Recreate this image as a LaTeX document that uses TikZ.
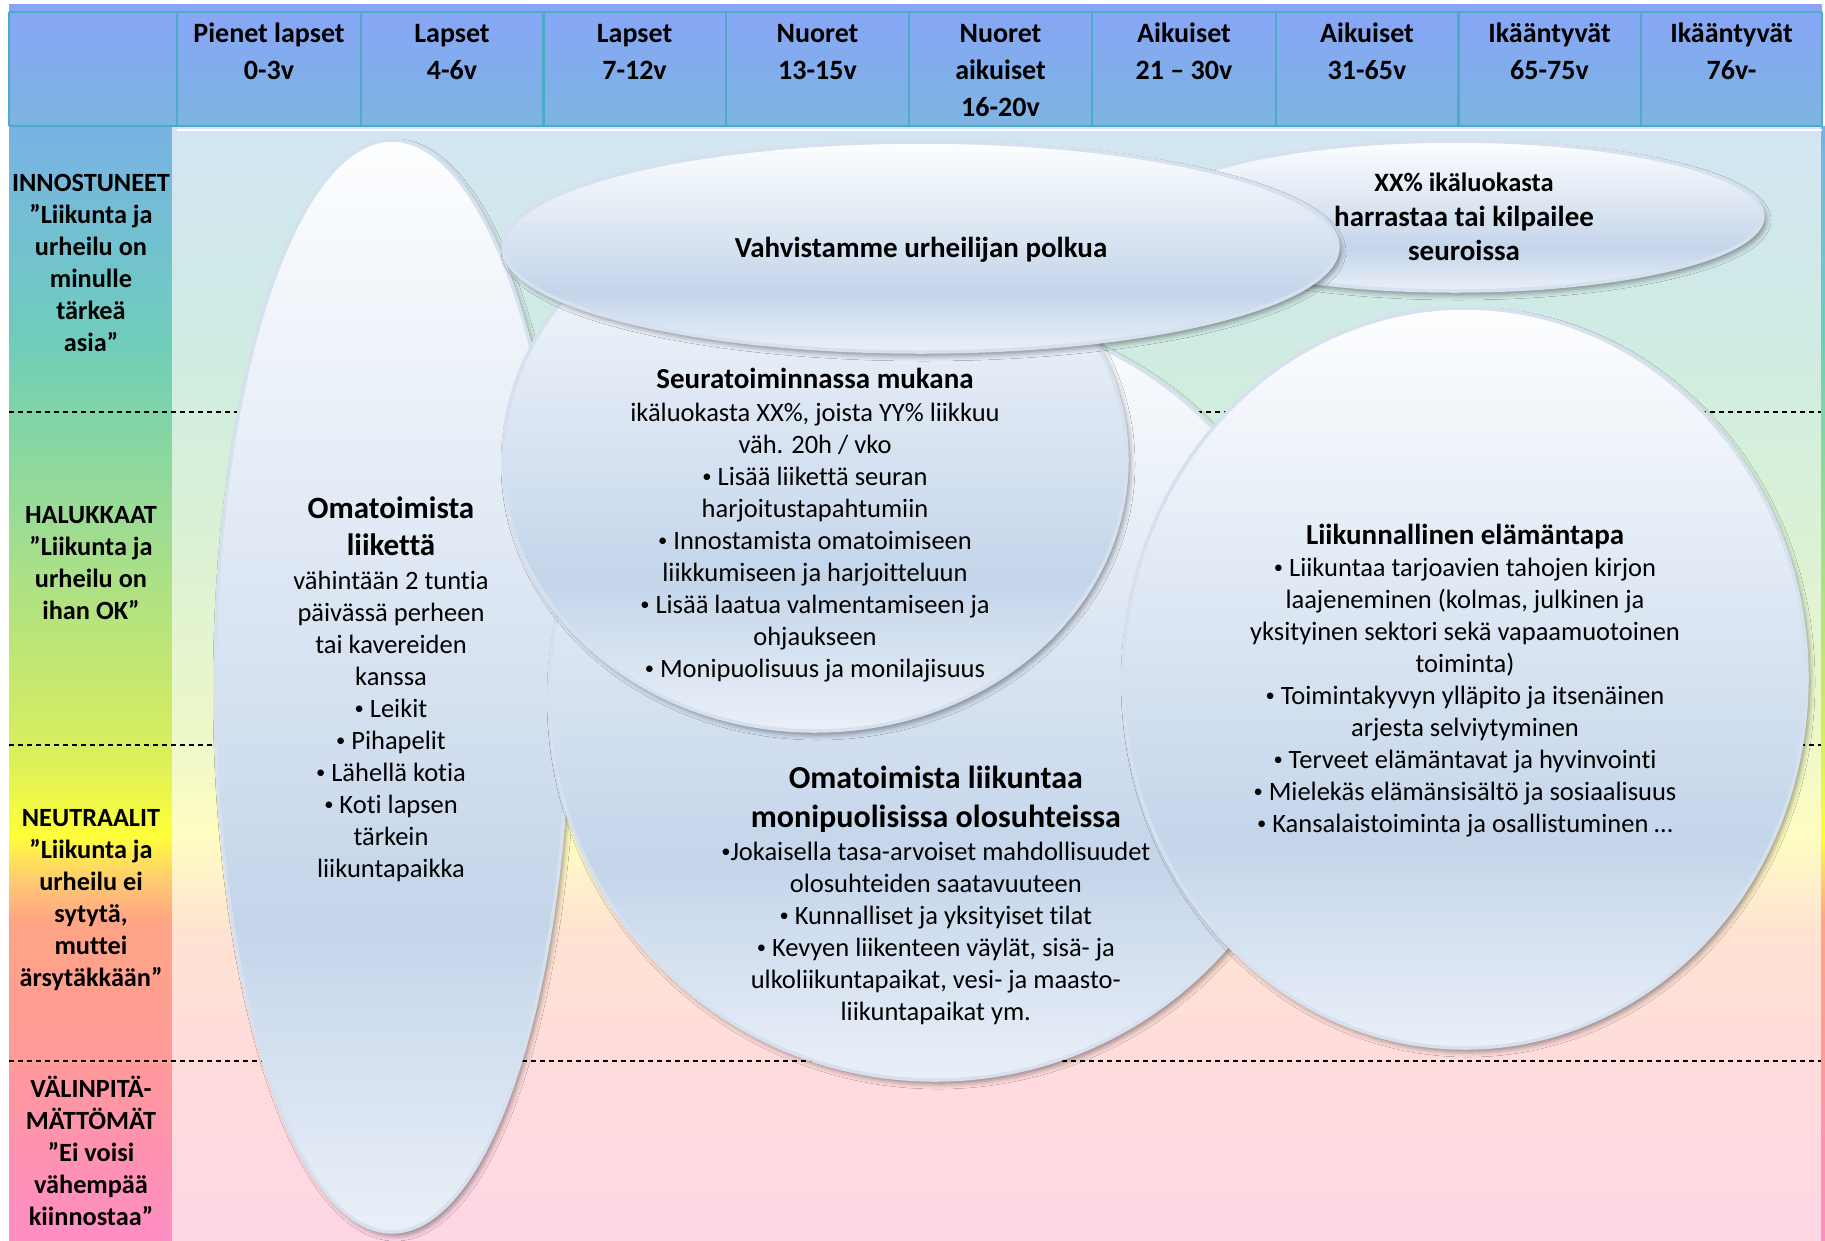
\documentclass[tikz,border=0pt]{standalone}
\usepackage{fontspec}
\usepackage{graphicx}
\setmainfont{Carlito}[Ligatures=NoCommon]
\usetikzlibrary{shapes.geometric,shadows,shadows.blur}

\newcommand\mybul{\raisebox{0.1em}{\scalebox{0.7}{•}}}

\definecolor{bubT}{HTML}{FDFEFF}
\definecolor{bubM}{HTML}{C4D5EA}
\definecolor{bubB}{HTML}{EAF0F8}
\definecolor{bubLine}{HTML}{D6E0EE}
\definecolor{hdrTop}{HTML}{88A5F7}
\definecolor{hdrBot}{HTML}{7DB4E2}
\definecolor{hdrLine}{HTML}{4BACC6}

\definecolor{bg1}{HTML}{D3E5F2}
\definecolor{bg2}{HTML}{CFEBE4}
\definecolor{bg3}{HTML}{D2EEDD}
\definecolor{bg4}{HTML}{DDF2D4}
\definecolor{bg5}{HTML}{EEF8C8}
\definecolor{bg6}{HTML}{FFFDC2}
\definecolor{bg7}{HTML}{FFE3D2}
\definecolor{bg8}{HTML}{FFDCDC}
\definecolor{bg9}{HTML}{FFD6E4}

\definecolor{c1}{HTML}{79B2E4}
\definecolor{c2}{HTML}{72C2CE}
\definecolor{c3}{HTML}{6FCDBB}
\definecolor{c4}{HTML}{7FD4A8}
\definecolor{c5}{HTML}{9CDC94}
\definecolor{c6}{HTML}{C6E86E}
\definecolor{c7}{HTML}{DDF05A}
\definecolor{c8}{HTML}{FFFF3A}
\definecolor{c9}{HTML}{FFCB70}
\definecolor{c10}{HTML}{FFA585}
\definecolor{c11}{HTML}{FF9A9A}
\definecolor{c12}{HTML}{FF92B0}
\definecolor{c13}{HTML}{FF8EC4}

\pgfdeclareverticalshading{bubshade}{100bp}{color(0bp)=(bubB); color(25bp)=(bubB); color(39bp)=(bubM); color(75bp)=(bubT); color(100bp)=(bubT)}
\pgfdeclareverticalshading{bodyshade}{100bp}{color(0bp)=(bg9); color(25bp)=(bg9); color(33.03bp)=(bg8); color(38.91bp)=(bg7); color(43.18bp)=(bg6); color(47.22bp)=(bg5); color(55.52bp)=(bg4); color(62.16bp)=(bg3); color(65.84bp)=(bg2); color(75bp)=(bg1); color(100bp)=(bg1)}
\pgfdeclareverticalshading{colshade}{100bp}{color(0bp)=(c13); color(25bp)=(c13); color(29.04bp)=(c12); color(33.03bp)=(c11); color(39.36bp)=(c10); color(41.16bp)=(c9); color(43.18bp)=(c8); color(46.54bp)=(c7); color(50.13bp)=(c6); color(57.32bp)=(c5); color(62.16bp)=(c4); color(65.39bp)=(c3); color(69.43bp)=(c2); color(75bp)=(c1); color(100bp)=(c1)}

\tikzset{
  bodytext/.style={font=\fontsize{26.5}{32}\selectfont, align=center, inner sep=0pt, anchor=north},
  ttl/.style={font=\bfseries\fontsize{29}{35}\selectfont, inner sep=0pt, anchor=base},
  hdr/.style={font=\bfseries\fontsize{28}{37}\selectfont, align=center, inner sep=0pt, anchor=north},
  lbl/.style={font=\bfseries\fontsize{26.3}{32}\selectfont, align=center, inner sep=0pt, anchor=north},
  bub/.style={ellipse, inner sep=0pt, draw=bubLine, line width=3.5pt, shade, shading=bubshade,
    blur shadow={shadow xshift=3pt, shadow yshift=-4pt, shadow blur radius=5pt, shadow opacity=40}},
  hline/.style={draw=hdrLine, line width=2.5pt},
  sepline/.style={draw=black, line width=1.2pt, dash pattern=on 5pt off 4pt},
}

\begin{document}
\begin{tikzpicture}[x=1pt,y=-1pt]
\useasboundingbox (0,0) rectangle (1825,1240);
\fill[white] (0,0) rectangle (1825,1240);

% header background
\shade[top color=hdrTop, bottom color=hdrBot] (9,4) rectangle (1822,126);

% left column, body, right strip
\shade[shading=colshade] (9,126) rectangle (172,1240);
\shade[shading=bodyshade] (172,126) rectangle (1821,1240);
\shade[shading=colshade] (1821,126) rectangle (1825,1240);

% dashed separators
\foreach \yy in {412,745,1061} \draw[sepline] (9,\yy) -- (1821,\yy);

% header grid
\draw[hline] (9,12) -- (1822,12);
\draw[hline] (9,126) -- (1822,126);
\foreach \xx in {9,177,361,543.5,726,909,1092,1276,1458.5,1641,1822} \draw[hline] (\xx,12) -- (\xx,126);
\draw[white, line width=2pt] (177,129.5) -- (1822,129.5);

% header texts
\node[hdr] (h1) at (269,16) {\strut Pienet lapset\\0-3v};
\node[hdr] (h2) at (452,16) {\strut Lapset\\4-6v};
\node[hdr] (h3) at (634.5,16) {\strut Lapset\\7-12v};
\node[hdr] (h4) at (817.5,16) {\strut Nuoret\\13-15v};
\node[hdr] (h5) at (1000.5,16) {\strut Nuoret\\aikuiset\\16-20v};
\node[hdr] (h6) at (1184,16) {\strut Aikuiset\\21 – 30v};
\node[hdr] (h7) at (1367,16) {\strut Aikuiset\\31-65v};
\node[hdr] (h8) at (1549.5,16) {\strut Ikääntyvät\\65-75v};
\node[hdr] (h9) at (1731.5,16) {\strut Ikääntyvät\\76v-};

% left labels
\node[lbl] (l1) at (91,168.6) {\strut INNOSTUNEET\\”Liikunta ja\\urheilu on\\minulle\\tärkeä\\asia”};
\node[lbl] (l2) at (91,500.6) {\strut HALUKKAAT\\”Liikunta ja\\urheilu on\\ihan OK”};
\node[lbl] (l3) at (91,803.6) {\strut NEUTRAALIT\\”Liikunta ja\\urheilu ei\\sytytä,\\muttei\\ärsytäkkään”};
\node[lbl] (l4) at (91,1074.6) {\strut VÄLINPITÄ-\\MÄTTÖMÄT\\”Ei voisi\\vähempää\\kiinnostaa”};

% bubbles (z-order)
\node[bub, minimum width=354pt, minimum height=1092pt] (Lell) at (392,686) {};
\node[bub, minimum width=772pt, minimum height=770pt] (Mell) at (935,695) {};
\node[bub, minimum width=624pt, minimum height=542pt] (Sell) at (815,460) {};
\node[bub, minimum width=684pt, minimum height=740pt] (Rell) at (1465,678) {};
\node[bub, minimum width=616pt, minimum height=150pt] (Xell) at (1455,216) {};
\node[bub, minimum width=835pt, minimum height=210pt] (Vell) at (920.5,247) {};

% left bubble text
\node[font=\bfseries\fontsize{31}{37}\selectfont, align=center, inner sep=0pt, anchor=north] (Lt) at (391,492.1) {\strut Omatoimista\\liikettä};
\node[bodytext] (Lb) at (391,567) {\strut vähintään 2 tuntia\\päivässä perheen\\tai kavereiden\\kanssa\\\mybul{} Leikit\\\mybul{} Pihapelit\\\mybul{} Lähellä kotia\\\mybul{} Koti lapsen\\tärkein\\liikuntapaikka};

% seura text
\node[ttl] (St) at (815,388) {Seuratoiminnassa mukana};
\node[bodytext] (Sb) at (815,399) {\strut ikäluokasta XX\%, joista YY\% liikkuu\\väh. 20h / vko\\\mybul{} Lisää liikettä seuran\\harjoitustapahtumiin\\\mybul{} Innostamista omatoimiseen\\liikkumiseen ja harjoitteluun\\\mybul{} Lisää laatua valmentamiseen ja\\ohjaukseen\\\mybul{} Monipuolisuus ja monilajisuus};

% middle text
\node[font=\bfseries\fontsize{32}{39}\selectfont, align=center, inner sep=0pt, anchor=north] (Mt) at (935.8,760.7) {\strut Omatoimista liikuntaa\\monipuolisissa olosuhteissa};
\node[bodytext] (Mb) at (935.8,837.6) {\strut \mybul{}Jokaisella tasa-arvoiset mahdollisuudet\\olosuhteiden saatavuuteen\\\mybul{} Kunnalliset ja yksityiset tilat\\\mybul{} Kevyen liikenteen väylät, sisä- ja\\ulkoliikuntapaikat, vesi- ja maasto-\\liikuntapaikat ym.};

% right text
\node[ttl] (Rt) at (1465,544) {Liikunnallinen elämäntapa};
\node[bodytext] (Rb) at (1465,553.6) {\strut \mybul{} Liikuntaa tarjoavien tahojen kirjon\\laajeneminen (kolmas, julkinen ja\\yksityinen sektori sekä vapaamuotoinen\\toiminta)\\\mybul{} Toimintakyvyn ylläpito ja itsenäinen\\arjesta selviytyminen\\\mybul{} Terveet elämäntavat ja hyvinvointi\\\mybul{} Mielekäs elämänsisältö ja sosiaalisuus\\\mybul{} Kansalaistoiminta ja osallistuminen …};

% top bubbles text
\node[ttl] (Vt) at (921,257) {Vahvistamme urheilijan polkua};
\node[ttl, font=\bfseries\fontsize{26.5}{32}\selectfont] (X1) at (1464,191) {XX\% ikäluokasta};
\node[ttl] (X2) at (1464,226) {harrastaa tai kilpailee};
\node[ttl] (X3) at (1464,260) {seuroissa};
\end{tikzpicture}
\end{document}
